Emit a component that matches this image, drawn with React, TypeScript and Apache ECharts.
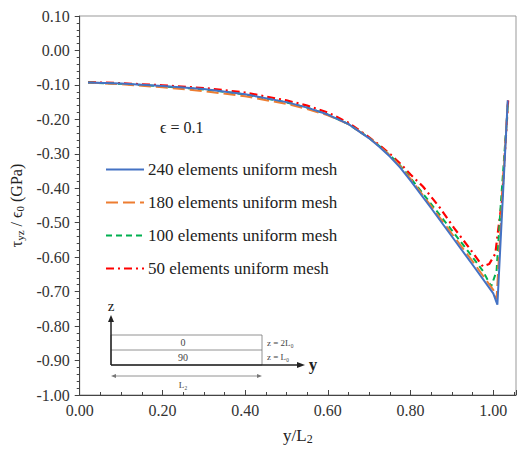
import React, { useEffect, useRef } from "react";
import * as echarts from "echarts";

const FONT = "'Liberation Serif', 'Times New Roman', Times, 'DejaVu Serif', serif";

const seriesNames = [
  "240 elements uniform mesh",
  "180 elements uniform mesh",
  "100 elements uniform mesh",
  "50 elements uniform mesh",
];
const seriesColors = ["#4472C4", "#ED7D31", "#00B050", "#FF0000"];

const x240 = [0.02, 0.1, 0.2, 0.3, 0.4, 0.5, 0.55, 0.6, 0.65, 0.7, 0.725, 0.75, 0.775, 0.8, 0.85, 0.9, 0.95, 1.0, 1.01, 1.035];
const y240 = [-0.093, -0.096, -0.103, -0.112, -0.127, -0.15, -0.166, -0.186, -0.214, -0.255, -0.28, -0.308, -0.34, -0.378, -0.458, -0.54, -0.622, -0.705, -0.738, -0.145];

const x180 = [0.02, 0.1, 0.2, 0.3, 0.4, 0.5, 0.55, 0.6, 0.65, 0.7, 0.725, 0.75, 0.775, 0.8, 0.85, 0.9, 0.95, 1.0, 1.008, 1.035];
const y180 = [-0.093, -0.098, -0.107, -0.118, -0.133, -0.155, -0.17, -0.188, -0.214, -0.254, -0.278, -0.305, -0.336, -0.373, -0.452, -0.532, -0.612, -0.695, -0.722, -0.15];

const x100 = [0.02, 0.1, 0.2, 0.3, 0.4, 0.5, 0.55, 0.6, 0.65, 0.7, 0.725, 0.75, 0.775, 0.8, 0.85, 0.9, 0.95, 0.975, 0.995, 1.008, 1.018, 1.036];
const y100 = [-0.093, -0.097, -0.104, -0.113, -0.128, -0.151, -0.166, -0.186, -0.214, -0.254, -0.278, -0.304, -0.334, -0.37, -0.446, -0.522, -0.6, -0.64, -0.685, -0.64, -0.45, -0.148];

const x50 = [0.02, 0.1, 0.2, 0.3, 0.4, 0.5, 0.55, 0.6, 0.65, 0.7, 0.725, 0.75, 0.775, 0.8, 0.83, 0.87, 0.905, 0.94, 0.975, 0.99, 1.005, 1.012, 1.021, 1.036];
const y50 = [-0.092, -0.095, -0.101, -0.109, -0.122, -0.145, -0.16, -0.18, -0.21, -0.252, -0.275, -0.3, -0.328, -0.36, -0.395, -0.455, -0.515, -0.57, -0.627, -0.62, -0.59, -0.52, -0.437, -0.145];

const xTickLabels = ["0.00", "0.20", "0.40", "0.60", "0.80", "1.00"];

const dashes: any[] = ["solid", [12, 5], [6, 4], [8, 4, 2, 4]];

const zip = (xs: number[], ys: number[]) => xs.map((x, i) => [x, ys[i]]);

export default function App() {
  const ref = useRef<HTMLDivElement>(null);
  useEffect(() => {
    if (!ref.current) return;
    const chart = echarts.init(ref.current, null, { renderer: "svg" });
    const datasets = [zip(x240, y240), zip(x180, y180), zip(x100, y100), zip(x50, y50)];
    const gray = "#777";
    const option: any = {
      animation: false,
      backgroundColor: "#fff",
      textStyle: { fontFamily: FONT },
      grid: { left: 74, right: 1, top: 16, bottom: 46, show: true, borderColor: "#999", borderWidth: 1, containLabel: false },
      legend: {
        orient: "vertical",
        left: 105,
        top: 161,
        padding: 0,
        itemWidth: 38,
        itemHeight: 14,
        itemGap: 16,
        data: seriesNames,
        itemStyle: { opacity: 0 },
        textStyle: { fontFamily: FONT, fontSize: 17, color: "#222", padding: [0, 0, 0, -1] },
      },
      xAxis: {
        type: "value",
        min: 0,
        max: 1.055,
        interval: 0.2,
        name: "{t|y/L}{s|2}",
        nameLocation: "middle",
        nameGap: 30,
        nameTextStyle: {
          rich: {
            t: { fontFamily: FONT, fontSize: 17, color: "#222" },
            s: { fontFamily: FONT, fontSize: 12, color: "#222", padding: [8, 0, 0, 0] },
          },
        },
        axisLine: { show: true, onZero: false, lineStyle: { color: "#444", width: 1 } },
        axisTick: { show: true, inside: true, length: 5, lineStyle: { color: "#444" } },
        minorTick: { show: true, splitNumber: 4, length: 3, lineStyle: { color: "#444" } },
        splitLine: { show: false },
        axisLabel: {
          showMaxLabel: false,
          fontFamily: FONT,
          fontSize: 16,
          color: "#333",
          margin: 7,
          formatter: (v: number) => {
            const s = v.toFixed(2);
            return xTickLabels.includes(s) ? s : "";
          },
        },
      },
      yAxis: {
        type: "value",
        min: -1,
        max: 0.1,
        interval: 0.1,
        name: "{t|τ}{s|yz}{t| / ϵ}{s|0}{t| (GPa)}",
        nameLocation: "middle",
        nameGap: 53,
        nameRotate: 90,
        nameTextStyle: {
          rich: {
            t: { fontFamily: FONT, fontSize: 16, color: "#222" },
            s: { fontFamily: FONT, fontSize: 11, color: "#222", padding: [8, 0, 0, 0] },
          },
        },
        axisLine: { show: true, onZero: false, lineStyle: { color: "#444", width: 1 } },
        axisTick: { show: true, inside: false, length: 5, lineStyle: { color: "#444" } },
        minorTick: { show: true, splitNumber: 5, length: 3, lineStyle: { color: "#444" } },
        splitLine: { show: false },
        axisLabel: {
          fontFamily: FONT,
          fontSize: 16,
          color: "#333",
          margin: 10,
          formatter: (v: number) => v.toFixed(2),
        },
      },
      series: seriesNames.map((name, i) => ({
        name,
        type: "line",
        data: datasets[i],
        showSymbol: false,
        symbol: "none",
        smooth: false,
        z: 10 - i,
        lineStyle: { color: seriesColors[i], width: i === 3 ? 2.2 : 2, type: dashes[i] },
        itemStyle: { color: seriesColors[i] },
      })),
      graphic: [
        { type: "text", left: 160, top: 119, style: { text: "ϵ = 0.1", font: `16px ${FONT}`, fill: "#222" } },
        // inset diagram
        { type: "rect", shape: { x: 111, y: 335, width: 151, height: 30 }, style: { fill: "none", stroke: gray, lineWidth: 0.8 } },
        { type: "line", shape: { x1: 111, y1: 350, x2: 262, y2: 350 }, style: { stroke: gray, lineWidth: 0.8 } },
        { type: "line", shape: { x1: 111, y1: 365, x2: 111, y2: 320 }, style: { stroke: "#222", lineWidth: 1.5 } },
        { type: "polygon", shape: { points: [[111, 315], [108, 322], [114, 322]] }, style: { fill: "#222" } },
        { type: "line", shape: { x1: 111, y1: 365, x2: 298, y2: 365 }, style: { stroke: "#222", lineWidth: 1.5 } },
        { type: "polygon", shape: { points: [[305, 365], [297, 362], [297, 368]] }, style: { fill: "#222" } },
        { type: "text", x: 111, y: 306, style: { text: "z", font: `15px ${FONT}`, fill: "#222", align: "center", verticalAlign: "middle" } },
        { type: "text", x: 313, y: 364, style: { text: "y", font: `bold 17px ${FONT}`, fill: "#222", align: "center", verticalAlign: "middle" } },
        { type: "text", x: 183, y: 342, style: { text: "0", font: `10px ${FONT}`, fill: "#444", align: "center", verticalAlign: "middle" } },
        { type: "text", x: 183, y: 357, style: { text: "90", font: `10px ${FONT}`, fill: "#444", align: "center", verticalAlign: "middle" } },
        { type: "text", x: 267, y: 343, style: { text: "z = 2L₀", font: `9px ${FONT}`, fill: "#444", verticalAlign: "middle" } },
        { type: "text", x: 267, y: 357, style: { text: "z = L₀", font: `9px ${FONT}`, fill: "#444", verticalAlign: "middle" } },
        { type: "line", shape: { x1: 114, y1: 376, x2: 259, y2: 376 }, style: { stroke: gray, lineWidth: 0.8 } },
        { type: "polygon", shape: { points: [[111, 376], [116, 374], [116, 378]] }, style: { fill: gray } },
        { type: "polygon", shape: { points: [[262, 376], [257, 374], [257, 378]] }, style: { fill: gray } },
        { type: "text", x: 183, y: 385, style: { text: "L₂", font: `9px ${FONT}`, fill: "#444", align: "center", verticalAlign: "middle" } },
      ],
    };
    chart.setOption(option);
    return () => chart.dispose();
  }, []);
  return (
    <div
      ref={ref}
      style={{ position: "fixed", left: 0, top: 0, width: 517, height: 450, background: "#fff" }}
    />
  );
}
